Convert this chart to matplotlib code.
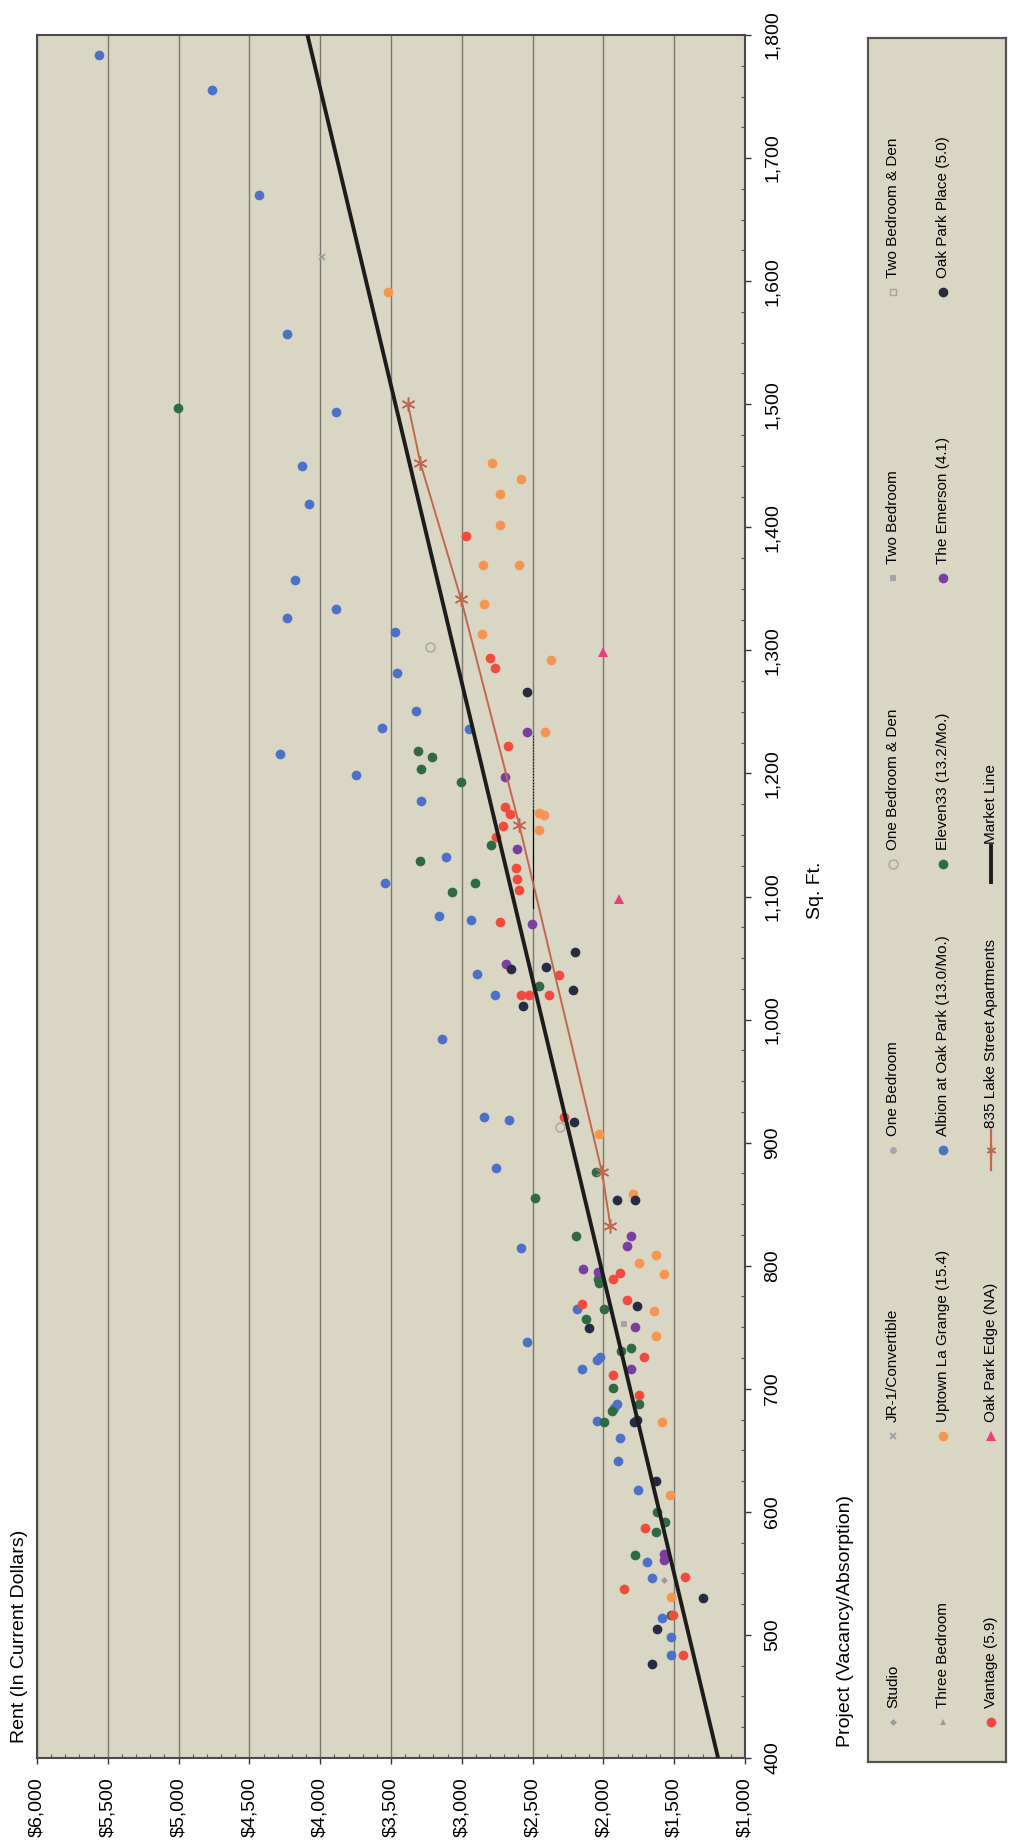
import matplotlib
matplotlib.use("Agg")
import matplotlib.pyplot as plt
from matplotlib.ticker import MultipleLocator, FuncFormatter
from matplotlib import font_manager

# ---------------- data: (sq ft, monthly rent) ----------------
albion_sf = [1784, 1755, 1670, 1557, 1494, 1450, 1419, 1357, 1334, 1326, 1315,
             1282, 1251, 1237, 1236, 1216, 1199, 1178, 1132, 1111, 1084, 1081,
             1037, 1020, 984, 921, 918, 879, 814, 765, 738, 726, 723, 716, 688,
             684, 674, 660, 641, 618, 559, 546, 514, 498, 484]
albion_rent = [5564, 4762, 4434, 4236, 3891, 4132, 4082, 4177, 3887, 4232, 3475,
               3460, 3322, 3566, 2946, 4284, 3749, 3285, 3109, 3541, 3159, 2933,
               2896, 2763, 3139, 2845, 2670, 2758, 2580, 2186, 2538, 2021, 2045, 2150, 1904,
               1927, 2045, 1880, 1897, 1758, 1693, 1658, 1587, 1524, 1524]

eleven_sf = [1497, 1218, 1213, 1204, 1193, 1142, 1129, 1111, 1104, 1027, 876, 855,
             824, 789, 786, 765, 757, 733, 731, 701, 688, 682, 673, 600, 592, 584, 565, 516]
eleven_rent = [5005, 3310, 3209, 3285, 3009, 2795, 3297, 2908, 3071, 2456, 2055, 2481,
               2197, 2040, 2030, 1993, 2120, 1805, 1876, 1932, 1751, 1939, 1998, 1622, 1564, 1627, 1775, 1520]

oakplace_sf = [1266, 1055, 1041, 1043, 1024, 1011, 917, 853, 853, 767, 749, 675, 673,
               625, 530, 505, 476]
oakplace_rent = [2537, 2200, 2652, 2406, 2218, 2569, 2205, 1904, 1774, 1763, 2104, 1763, 1782,
                 1627, 1298, 1618, 1658]

emerson_sf = [1234, 1197, 1139, 1078, 1045, 824, 816, 797, 795, 750, 716, 566, 561]
emerson_rent = [2537, 2695, 2612, 2507, 2687, 1805, 1833, 2146, 2040, 1780, 1805, 1570, 1575]

vantage_sf = [1393, 1294, 1286, 1222, 1173, 1167, 1157, 1148, 1123, 1114, 1105, 1079,
              1036, 1020, 1020, 1020, 921, 794, 789, 772, 769, 726, 711, 695, 587, 547,
              537, 516, 484]
vantage_rent = [2970, 2803, 2763, 2677, 2695, 2657, 2707, 2757, 2620, 2607, 2594, 2733,
                2313, 2582, 2527, 2381, 2281, 1880, 1930, 1834, 2150, 1716, 1932, 1751, 1705, 1423,
                1852, 1505, 1440]

uptown_sf = [1591, 1452, 1439, 1427, 1402, 1369, 1369, 1338, 1313, 1292, 1234, 1168,
             1166, 1154, 907, 858, 809, 802, 793, 763, 743, 673, 614, 531]
uptown_rent = [3518, 2787, 2582, 2730, 2730, 2850, 2596, 2840, 2858, 2368, 2411, 2456,
               2419, 2456, 2030, 1790, 1627, 1751, 1575, 1641, 1627, 1587, 1533, 1524]

edge_sf = [1299, 1098]
edge_rent = [2000, 1892]

studio_sf = [545]
studio_rent = [1570]
jr1_sf = [1620]
jr1_rent = [3987]
one_den_sf = [1303, 913]
one_den_rent = [3227, 2306]
two_bed_sf = [753]
two_bed_rent = [1852]

lake_sf = [832, 876, 1158, 1342, 1452, 1500]
lake_rent = [1950, 2010, 2594, 3006, 3292, 3380]

market_sf = [400, 1800]
market_rent = [1190, 4090]

# small range bar drawn in the source chart
bar_solid_sf = [1091, 1170]
bar_dot_sf = [1170, 1232]
bar_rent = [2494, 2494]

# ---------------- styling ----------------
BG = '#dad6c4'
names = {f.name for f in font_manager.fontManager.ttflist}
MAIN = 'Liberation Sans'
NARROW = 'Liberation Sans Narrow' if 'Liberation Sans Narrow' in names else MAIN
plt.rcParams['font.family'] = MAIN

styles = {
    'Studio': dict(marker='D', color='#9c9a9c', ms=3.5, mfc='#9c9a9c'),
    'JR-1/Convertible': dict(marker='x', color='#9c9a9c', ms=5, mew=1.2),
    'One Bedroom': dict(marker='o', color='#a9a2b2', ms=5, mfc='#a9a2b2'),
    'One Bedroom & Den': dict(marker='o', color='#a4a4a4', ms=6.5, mfc='none', mew=1.0),
    'Two Bedroom': dict(marker='s', color='#a4a4a8', ms=5, mfc='#a4a4a8'),
    'Two Bedroom & Den': dict(marker='s', color='#a4a4a4', ms=5, mfc='none', mew=1.0),
    'Three Bedroom': dict(marker='^', color='#9c9a9c', ms=4, mfc='#9c9a9c'),
    'Uptown La Grange (15.4)': dict(marker='o', color='#f79450', ms=7),
    'Albion at Oak Park (13.0/Mo.)': dict(marker='o', color='#4d70c8', ms=7),
    'Eleven33 (13.2/Mo.)': dict(marker='o', color='#2f6a45', ms=7),
    'The Emerson (4.1)': dict(marker='o', color='#7a3ea0', ms=7),
    'Oak Park Place (5.0)': dict(marker='o', color='#252c45', ms=7),
    'Vantage (5.9)': dict(marker='o', color='#f24a3d', ms=7),
    'Oak Park Edge (NA)': dict(marker='^', color='#e8417a', ms=7),
}
for s in styles.values():
    s.setdefault('mew', 0)
    s['ls'] = 'none'

LAKE_C = '#c0684e'
MARKET_C = '#1c1c1c'

W, H = 1010, 1845
def box(x0, y0, x1, y1):
    return [x0 / W, 1 - y1 / H, (x1 - x0) / W, (y1 - y0) / H]

fig = plt.figure(figsize=(W / 100, H / 100), dpi=100)
fig.patch.set_facecolor('white')

ax = fig.add_axes(box(37, 35, 745, 1758))
ax.set_facecolor(BG)
ax.set_xlim(6000, 1000)
ax.set_ylim(400, 1800)

ax.xaxis.set_major_locator(MultipleLocator(500))
ax.xaxis.set_minor_locator(MultipleLocator(100))
ax.yaxis.set_major_locator(MultipleLocator(100))
ax.yaxis.set_minor_locator(MultipleLocator(25))
ax.xaxis.set_major_formatter(FuncFormatter(lambda v, p: f'${v:,.0f}'))
ax.yaxis.set_major_formatter(FuncFormatter(lambda v, p: f'{v:,.0f}'))
ax.yaxis.tick_right()
ax.tick_params(axis='x', which='major', direction='out', length=4, width=1,
               pad=10, labelsize=14, labelrotation=90, colors='#333333', labelcolor='black')
ax.tick_params(axis='x', which='minor', direction='in', length=3, width=0.8, colors='#555555')
ax.tick_params(axis='y', which='major', direction='out', length=4, width=1,
               pad=10, labelsize=14, labelrotation=90, colors='#333333', labelcolor='black')
ax.tick_params(axis='y', which='minor', direction='in', length=3, width=0.8, colors='#555555')
for lbl in ax.get_yticklabels():
    lbl.set_va('center')
ax.grid(axis='x', which='major', color='#7a786d', lw=1.0)
ax.set_axisbelow(True)
for sp in ax.spines.values():
    sp.set_color('#4a4a4a')
    sp.set_linewidth(1.5)

# scatter series (x = rent, y = sq ft)
series = [
    ('Studio', studio_rent, studio_sf),
    ('JR-1/Convertible', jr1_rent, jr1_sf),
    ('One Bedroom & Den', one_den_rent, one_den_sf),
    ('Two Bedroom', two_bed_rent, two_bed_sf),
    ('Albion at Oak Park (13.0/Mo.)', albion_rent, albion_sf),
    ('Eleven33 (13.2/Mo.)', eleven_rent, eleven_sf),
    ('Uptown La Grange (15.4)', uptown_rent, uptown_sf),
    ('Vantage (5.9)', vantage_rent, vantage_sf),
    ('The Emerson (4.1)', emerson_rent, emerson_sf),
    ('Oak Park Place (5.0)', oakplace_rent, oakplace_sf),
    ('Oak Park Edge (NA)', edge_rent, edge_sf),
]
for name, r, sf in series:
    ax.plot(r, sf, zorder=3, **styles[name])

ax.plot(bar_rent, bar_solid_sf, color='black', lw=0.8, zorder=2)
ax.plot(bar_rent, bar_dot_sf, color='black', lw=0.8, ls=':', zorder=2)

ax.plot(lake_rent, lake_sf, color=LAKE_C, lw=1.4, marker=(6, 2, 0), ms=10,
        mew=1.1, mec=LAKE_C, zorder=4)
ax.plot(market_rent, market_sf, color=MARKET_C, lw=2.8, zorder=5, solid_capstyle='butt')

# axis titles
fig.text(20 / W, 1 - 1743 / H, 'Rent (In Current Dollars)', rotation=90,
         ha='center', va='bottom', fontsize=14)
fig.text(815 / W, 1 - 890 / H, 'Sq. Ft.', rotation=90, ha='center', va='center', fontsize=14)
fig.text(845 / W, 1 - 1747 / H, 'Project (Vacancy/Absorption)', rotation=90,
         ha='center', va='bottom', fontsize=14)

# ---------------- legend (drawn by hand, rotated) ----------------
lg = fig.add_axes(box(868, 38, 1006, 1762))
lg.set_facecolor(BG)
lg.set_xlim(868, 1006)
lg.set_ylim(1762, 38)
lg.set_xticks([])
lg.set_yticks([])
for sp in lg.spines.values():
    sp.set_color('#555555')
    sp.set_linewidth(1.6)

columns = [
    ['Studio', 'JR-1/Convertible', 'One Bedroom', 'One Bedroom & Den', 'Two Bedroom', 'Two Bedroom & Den'],
    ['Three Bedroom', 'Uptown La Grange (15.4)', 'Albion at Oak Park (13.0/Mo.)',
     'Eleven33 (13.2/Mo.)', 'The Emerson (4.1)', 'Oak Park Place (5.0)'],
    ['Vantage (5.9)', 'Oak Park Edge (NA)', '835 Lake Street Apartments', 'Market Line'],
]
col_x = [893, 943, 991]
for cx, names_col in zip(col_x, columns):
    for i, name in enumerate(names_col):
        my = 1722 - 286 * i
        if name == '835 Lake Street Apartments':
            lg.plot([cx, cx], [my + 20, my - 20], color=LAKE_C, lw=1.6)
            lg.plot([cx], [my], marker=(6, 2, 0), ms=7, color=LAKE_C, mew=1)
            ty = my - 22
        elif name == 'Market Line':
            lg.plot([cx, cx], [my + 18, my - 18], color=MARKET_C, lw=2.8)
            ty = my - 20
        else:
            lg.plot([cx], [my], **styles[name])
            ty = my - 14
        lg.text(cx, ty, name, rotation=90, ha='center', va='bottom', fontsize=11,
                family=NARROW)

fig.savefig('out.png', dpi=100, facecolor='white')
